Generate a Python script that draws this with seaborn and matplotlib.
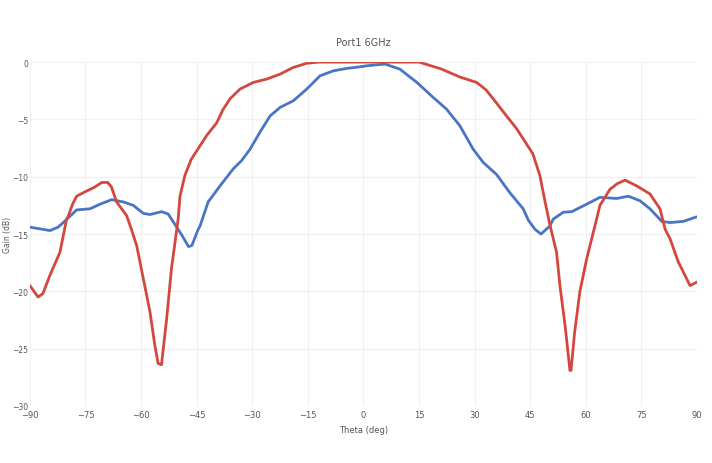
import pandas as pd
import seaborn as sns
import matplotlib.pyplot as plt

# red trace
theta_red = [-90, -87.8, -86.5, -84.6, -81.9, -80.1, -79.6, -78.5, -77.4, -75, -72.5, -70.6, -69,
             -68, -66.6, -63.9, -62.6, -61.2, -59.4, -57.6, -56.3, -55.4, -54.5, -53.1, -51.8, -50,
             -49.5, -48.2, -46.5, -45.5, -42.3, -39.6, -38, -36, -33.3, -29.7, -26.1, -22.5, -18.9,
             -15.3, -12, 0, 10, 15, 18, 21, 26, 30.5, 33, 35, 38.6, 41.3, 43.5, 45.7, 47.6, 49, 50.3,
             52.1, 53, 54.4, 55.7, 56, 57, 58.4, 60.2, 62.9, 63.8, 66.5, 68.5, 70.6, 73.7, 77.3, 80,
             81.4, 82.7, 84.9, 88.1, 89.9]
gain_red = [-19.5, -20.5, -20.2, -18.6, -16.6, -13.7, -13.4, -12.4, -11.7, -11.3, -10.9, -10.5, -10.5,
            -10.9, -12.2, -13.4, -14.6, -16.0, -18.9, -21.8, -24.7, -26.3, -26.4, -22.4, -18.0, -13.7,
            -11.7, -9.9, -8.5, -8.0, -6.4, -5.3, -4.2, -3.2, -2.35, -1.77, -1.48, -1.05, -0.46,
            -0.1, 0, 0, 0, 0, -0.3, -0.6, -1.3, -1.77, -2.4, -3.2, -4.7, -5.8, -6.9, -8.0, -9.9, -12.2, -14.2,
            -16.6, -19.5, -23.0, -26.9, -26.9, -23.5, -20.0, -17.2, -13.7, -12.5, -11.1, -10.6, -10.3, -10.8, -11.5, -12.8,
            -14.6, -15.4, -17.4, -19.5, -19.2]

# blue trace
theta_blue = [-90, -84.6, -82.4, -81, -77.4, -73.8, -71.1, -67.9, -64.8, -62.1, -59.4, -57.6, -54.5,
              -52.7, -51.2, -49, -47.2, -46.3, -44.6, -44.1, -41.9, -38.7, -35.1, -32.9, -30.6, -27.9,
              -25.2, -22.5, -18.9, -15.3, -11.7, -8.1, -4.5, -0.9, 0.9, 5.8, 9.8, 14.4, 18.8, 22.4, 26,
              29.6, 32.3, 35.9, 39.5, 43.1, 44.5, 46.3, 47.9, 50.3, 51.2, 53.9, 56.2, 60.2, 63.8, 68.3,
              71.5, 74.6, 77.3, 80.5, 82.7, 86.3, 89.9]
gain_blue = [-14.4, -14.7, -14.4, -14.0, -12.9, -12.8, -12.4, -12.0, -12.2, -12.5, -13.2, -13.3, -13.05,
             -13.25, -14.0, -15.1, -16.1, -16.0, -14.6, -14.3, -12.2, -10.8, -9.3, -8.6, -7.6, -6.1,
             -4.7, -3.95, -3.37, -2.35, -1.19, -0.76, -0.55, -0.41, -0.32, -0.17, -0.61, -1.77, -3.08, -4.1, -5.55,
             -7.6, -8.75, -9.8, -11.4, -12.8, -13.8, -14.6, -15.0, -14.3, -13.7, -13.1, -13.05, -12.4, -11.8, -11.9,
             -11.7, -12.1, -12.8, -13.9, -14.0, -13.9, -13.5]

df_red = pd.DataFrame({'theta': theta_red, 'gain': gain_red})
df_blue = pd.DataFrame({'theta': theta_blue, 'gain': gain_blue})

sns.set_style('white')
plt.rcParams['font.family'] = ['DejaVu Sans']

fig = plt.figure(figsize=(7.12, 4.64), dpi=100)
ax = fig.add_axes([0.042, 0.123, 0.937, 0.741])

sns.lineplot(data=df_blue, x='theta', y='gain', color='#4a74c4', lw=2.0, ax=ax, sort=False)
sns.lineplot(data=df_red, x='theta', y='gain', color='#d4473f', lw=2.0, ax=ax, sort=False)

ax.set_xlim(-90, 90)
ax.set_ylim(-30, 0)
ax.set_xticks(range(-90, 91, 15))
ax.set_yticks(range(-30, 1, 5))
ax.set_xticklabels([str(t).replace('-', '\u2212') for t in range(-90, 91, 15)])
ax.set_yticklabels([str(t).replace('-', '\u2212') for t in range(-30, 1, 5)])
ax.grid(True, color='#f0f0f0', lw=0.8)
ax.set_axisbelow(True)
for s in ax.spines.values():
    s.set_visible(False)
ax.tick_params(axis='x', length=0, labelsize=6, labelcolor='#555555', pad=3)
ax.tick_params(axis='y', length=0, labelsize=5.5, labelcolor='#555555', pad=1)
ax.set_xlabel('Theta (deg)', fontsize=6, color='#555555')
ax.set_ylabel('Gain (dB)', fontsize=5.5, color='#555555')
ax.xaxis.set_label_coords(0.5, -0.055)
ax.yaxis.set_label_coords(-0.027, 0.5)
ax.set_title('Port1 6GHz', fontsize=7, color='#555555', pad=12)

plt.savefig('out.png', dpi=100)
